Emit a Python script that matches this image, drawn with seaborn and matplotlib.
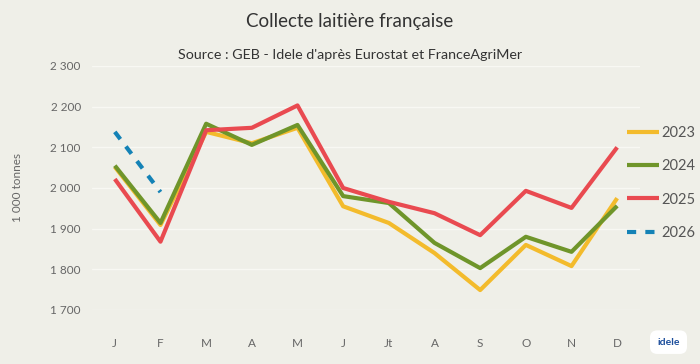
import matplotlib
matplotlib.use("Agg")
import matplotlib.pyplot as plt
import seaborn as sns
import pandas as pd
import numpy as np

months = ["J", "F", "M", "A", "M", "J", "Jt", "A", "S", "O", "N", "D"]
v2023 = [2052, 1909, 2138, 2110, 2148, 1955, 1914, 1840, 1749, 1860, 1808, 1975]
v2024 = [2055, 1914, 2158, 2106, 2155, 1980, 1963, 1865, 1803, 1880, 1843, 1956]
v2025 = [2022, 1868, 2142, 2148, 2203, 2000, 1966, 1938, 1884, 1993, 1951, 2100]
v2026 = [2138, 1990]
yticks = [1700, 1800, 1900, 2000, 2100, 2200, 2300]

series = {"2023": v2023, "2024": v2024, "2025": v2025, "2026": v2026}
rows = []
for yr, vals in series.items():
    for i, v in enumerate(vals):
        rows.append({"month": i, "value": v, "year": yr})
df = pd.DataFrame(rows)

bg = "#efefe8"
sns.set_theme(style="white")
plt.rcParams["font.family"] = ["Lato", "DejaVu Sans"]

fig = plt.figure(figsize=(7, 3.64), dpi=100, facecolor=bg)
ax = fig.add_axes([0.1314, 0.1484, 0.7829, 0.6703])
ax.set_facecolor(bg)

palette = {"2023": "#f3bb2c", "2024": "#6f952a", "2025": "#e94a50", "2026": "#1482b6"}
dashes = {"2023": "", "2024": "", "2025": "", "2026": (2.2, 2.2)}
sns.lineplot(data=df, x="month", y="value", hue="year", style="year",
             palette=palette, dashes=dashes, linewidth=3.0, ax=ax,
             legend=True)
for ln in ax.get_lines():
    ln.set_solid_capstyle("butt")
    ln.set_solid_joinstyle("round")

ax.set_xlim(-0.5, 11.5)
ax.set_ylim(1700, 2300)
ax.set_xticks(range(12))
ax.set_xticklabels(months)
ax.set_yticks(yticks)
ax.set_yticklabels([f"{t // 1000} {t % 1000:03d}" for t in yticks])
ax.tick_params(axis="x", length=0, pad=20, labelsize=8.5, colors="#666666")
ax.tick_params(axis="y", length=0, pad=8, labelsize=8.5, colors="#666666")
ax.set_xlabel("")
ax.set_ylabel("1 000 tonnes", fontsize=8.5, color="#666666", labelpad=20)
for s in ax.spines.values():
    s.set_visible(False)
ax.grid(axis="y", color="#f8f8f3", linewidth=1)
ax.set_axisbelow(True)

handles, labels = ax.get_legend_handles_labels()
leg = ax.legend(handles, labels, loc="upper left",
                bbox_to_anchor=(627 / 700, 1 - 126 / 364), bbox_transform=fig.transFigure,
                borderaxespad=0, borderpad=0,
                frameon=False, fontsize=10.5, handlelength=2.2, handletextpad=0.15,
                labelspacing=1.32, labelcolor="#555555")
for h in leg.get_lines():
    h.set_linewidth(3.0)

fig.text(0.5, 0.94, "Collecte laitière française", ha="center", va="center",
         fontsize=13.5, color="#333333")
fig.text(0.5, 0.848, "Source : GEB - Idele d'après Eurostat et FranceAgriMer", ha="center",
         va="center", fontsize=10.3, color="#333333")

# logo placeholder
fig.text(0.955, 0.06, "idele", ha="center", va="center", fontsize=7.5,
         fontweight="bold", color="#1d4f9c",
         bbox=dict(boxstyle="round,pad=0.7", fc="white", ec="none"))

fig.savefig("out.png", dpi=100, facecolor=bg)
